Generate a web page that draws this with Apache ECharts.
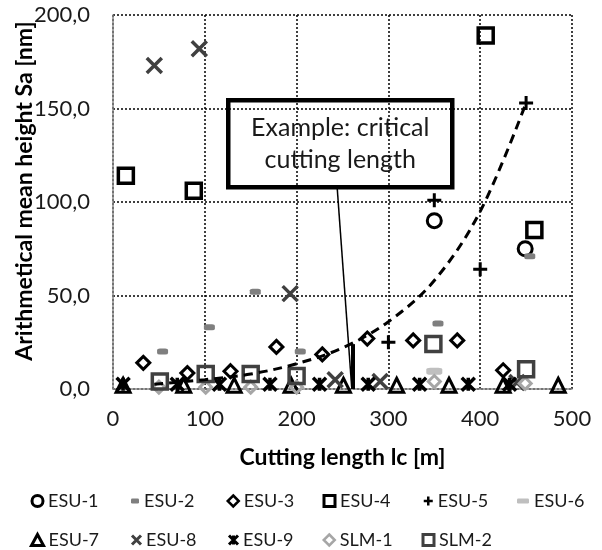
<!DOCTYPE html>
<html><head><meta charset="utf-8">
<script src="https://cdn.jsdelivr.net/npm/echarts@6/dist/echarts.min.js"></script>
<style>html,body{margin:0;padding:0;background:#fff}#c{width:602px;height:550px}</style>
</head><body><div id="c"></div>
<script>
// ---- data ----
const xTicks = [0, 100, 200, 300, 400, 500];
const yTicks = [0, 50, 100, 150, 200];
const seriesNames = ['ESU-1','ESU-2','ESU-3','ESU-4','ESU-5','ESU-6','ESU-7','ESU-8','ESU-9','SLM-1','SLM-2'];
const esu1 = [[350, 90], [449, 75]];
const esu2 = [[54, 20], [105, 33], [155, 52], [204, 20], [354, 35], [454, 71]];
const esu3 = [[33, 14], [81, 8.5], [128, 9.5], [178, 22.5], [228, 18.5], [277, 27], [327, 26], [375, 26], [425, 10]];
const esu4 = [[14, 114], [88, 106], [406, 189], [459, 85]];
const esu5 = [[300, 25], [350, 101], [400, 64], [450, 153]];
const esu6 = [[350, 9.5]];
const esu7 = [[11, 2], [77, 2], [132, 2], [194, 2], [251, 2], [309, 2], [366, 2], [425, 2], [485, 2]];
const esu8 = [[45, 173], [94, 182], [193, 51], [242, 5], [291, 4], [440, 3.5]];
const esu9 = [[11, 2.5], [70, 2.5], [116, 2.5], [171, 2.5], [225, 2.5], [278, 2.5], [334, 2.5], [387, 2.5], [432, 2.5]];
const slm1 = [[50, 1], [101, 1], [150, 1], [200, 1], [350, 4], [449, 3]];
const slm2 = [[51, 4], [101, 8], [150, 8], [200, 7], [349, 24], [450, 10.5]];
const trendX = [45, 100, 150, 200, 250, 300, 350, 400, 450];
const trendY = [2.5, 5, 8, 13.5, 22, 36, 58, 95, 153];
const annotationText = ['Example: critical', 'cutting length'];
const yTitle = 'Arithmetical mean height Sa [nm]';
const xTitle = 'Cutting length lc [m]';
const criticalLength = 261;

const font = 'Lato';
const values = [esu1, esu2, esu3, esu4, esu5, esu6, esu7, esu8, esu9, slm1, slm2];
const T = 'rgba(0,0,0,0)';
const PLUS = 'path://M0,5H10M5,0V10';
const CROSS = 'path://M0,0L10,10M10,0L0,10';
const STAR = 'path://M0,0L10,10M10,0L0,10M5,0V10';
const styles = [
  {symbol: 'circle', size: 14, item: {color: T, borderColor: '#000', borderWidth: 3}, icon: [11, 11], bw: 3},
  {symbol: 'roundRect', size: [11, 6], item: {color: '#7f7f7f'}, icon: [8, 5], bw: 0},
  {symbol: 'diamond', size: 13, item: {color: T, borderColor: '#000', borderWidth: 3}, icon: [11, 11], bw: 2.5},
  {symbol: 'rect', size: 15, item: {color: T, borderColor: '#000', borderWidth: 3.5}, icon: [11, 11], bw: 3},
  {symbol: PLUS, size: 14, item: {color: T, borderColor: '#000', borderWidth: 3}, icon: [9, 9], bw: 2.5},
  {symbol: 'roundRect', size: [16, 7], item: {color: '#bfbfbf'}, icon: [12, 5], bw: 0},
  {symbol: 'triangle', size: 14, item: {color: T, borderColor: '#000', borderWidth: 3}, icon: [12, 11], bw: 3},
  {symbol: CROSS, size: 15, item: {color: T, borderColor: '#404040', borderWidth: 3.5}, icon: [9, 9], bw: 3},
  {symbol: STAR, size: 13, item: {color: T, borderColor: '#000', borderWidth: 3.5}, icon: [9, 9], bw: 3},
  {symbol: 'diamond', size: 12, item: {color: T, borderColor: '#a6a6a6', borderWidth: 3}, icon: [11, 11], bw: 2.5},
  {symbol: 'rect', size: 15, item: {color: T, borderColor: '#404040', borderWidth: 3.5}, icon: [11, 11], bw: 3}
];
const legendPos = [
  [36, 492], [135, 492], [232, 492], [328, 492], [427, 492], [523, 492],
  [36, 531], [135, 531], [232, 531], [328, 531], [427, 531]
];

const series = seriesNames.map((n, i) => ({
  name: n, type: 'scatter', data: values[i],
  symbol: styles[i].symbol, symbolSize: styles[i].size,
  itemStyle: Object.assign({opacity: 1}, styles[i].item), z: 3 + i
}));
series.push({
  name: 'trend', type: 'line', smooth: 0.35, symbol: 'none', z: 20,
  data: trendX.map((x, i) => [x, trendY[i]]),
  lineStyle: {color: '#000', width: 3, type: [9, 6]},
  markLine: {
    silent: true, symbol: 'none', label: {show: false}, animation: false,
    data: [
      [{coord: [244, 109], lineStyle: {color: '#000', width: 1.5, type: 'solid'}}, {coord: [260, 1]}],
      [{coord: [criticalLength, 0], lineStyle: {color: '#000', width: 4, type: 'solid'}}, {coord: [criticalLength, 24]}]
    ]
  }
});

const legends = seriesNames.map((n, i) => ({
  data: [n], left: legendPos[i][0] - styles[i].icon[0] / 2, top: legendPos[i][1],
  itemWidth: styles[i].icon[0], itemHeight: styles[i].icon[1], padding: 0, itemGap: 0,
  itemStyle: styles[i].bw ? {borderWidth: styles[i].bw, opacity: 1} : {borderWidth: 0, opacity: 1},
  textStyle: {fontFamily: font, fontSize: 18, color: '#1a1a1a'},
  selectedMode: false
}));

const chart = echarts.init(document.getElementById('c'), null, {renderer: 'canvas'});
chart.setOption({
  animation: false,
  backgroundColor: '#fff',
  grid: {left: 113, right: 30, top: 15, bottom: 161, containLabel: false},
  xAxis: {
    type: 'value', min: xTicks[0], max: xTicks[xTicks.length - 1], interval: 100,
    name: xTitle, nameLocation: 'middle', nameGap: 57,
    nameTextStyle: {fontFamily: font, fontSize: 23, fontWeight: 'bold', color: '#000'},
    axisLine: {show: true, lineStyle: {color: '#868686', width: 1.5}},
    axisTick: {show: false},
    axisLabel: {fontFamily: font, fontSize: 22, color: '#1a1a1a', margin: 19},
    splitLine: {show: true, lineStyle: {color: '#000', width: 1.5, type: [2, 2]}}
  },
  yAxis: {
    type: 'value', min: yTicks[0], max: yTicks[yTicks.length - 1], interval: 50,
    axisLine: {show: true, lineStyle: {color: '#868686', width: 1.5}},
    axisTick: {show: false},
    axisLabel: {fontFamily: font, fontSize: 22, color: '#1a1a1a', margin: 23,
      formatter: v => v.toFixed(1).replace('.', ',')},
    splitLine: {show: true, lineStyle: {color: '#000', width: 1.5, type: [2, 2]}}
  },
  legend: legends,
  series: series,
  graphic: [
    {type: 'text', x: 25, y: 191, rotation: Math.PI / 2, z: 100,
     style: {text: yTitle, fill: '#000', font: 'bold 23px Lato', align: 'center', verticalAlign: 'middle'}},
    {
    type: 'group', left: 226, top: 98, z: 100,
    children: [
      {type: 'rect', shape: {x: 0, y: 0, width: 224, height: 87},
       style: {fill: '#fff', stroke: '#000', lineWidth: 4.5}},
      {type: 'text', x: 112, y: 44,
       style: {text: annotationText.join('\n'), fill: '#1a1a1a', font: '25px Lato',
               align: 'center', verticalAlign: 'middle', lineHeight: 32}}
    ]
  }]
});
</script>
</body></html>
